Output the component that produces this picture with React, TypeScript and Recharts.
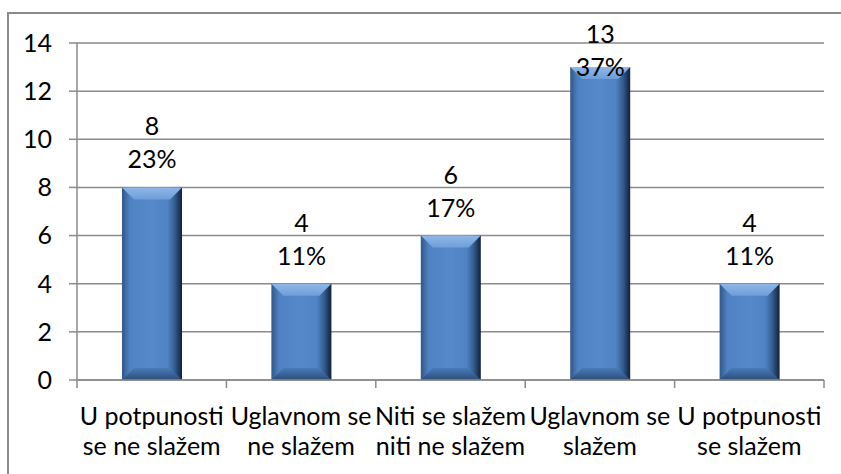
import React from 'react';
import { BarChart, Bar, XAxis, YAxis, CartesianGrid, LabelList } from 'recharts';

const categories = [
  'U potpunosti\nse ne slažem',
  'Uglavnom se\nne slažem',
  'Niti se slažem\nniti ne slažem',
  'Uglavnom se\nslažem',
  'U potpunosti\nse slažem',
];
const counts = [8, 4, 6, 13, 4];
const percents = ['23%', '11%', '17%', '37%', '11%'];
const yTicks = [0, 2, 4, 6, 8, 10, 12, 14];

const data = categories.map((c, i) => ({ name: c, value: counts[i], pct: percents[i] }));

const W = 841;
const H = 474;
const X_AXIS_H = 30;
const MARGIN = { top: 43, right: 17, bottom: 94 - X_AXIS_H, left: 0 };
const Y_AXIS_W = 77;
const FONT = 'Lato, "Open Sans", sans-serif';
const FS = 25;
const GRID = '#8a8a8a';
const BAND = (W - MARGIN.left - MARGIN.right - Y_AXIS_W) / categories.length;

const BevelBar = (props: any) => {
  const { x, y, width, height, index } = props;
  if (!height || height <= 0) return null;
  const b = Math.min(12, width / 4, height / 2);
  const id = `bb${index}`;
  const top = `${x},${y} ${x + width},${y} ${x + width - b},${y + b} ${x + b},${y + b}`;
  const bottom = `${x},${y + height} ${x + width},${y + height} ${x + width - b},${y + height - b} ${x + b},${y + height - b}`;
  return (
    <g>
      <defs>
        <linearGradient id={`${id}h`} x1="0" y1="0" x2="1" y2="0">
          <stop offset="0" stopColor="#30578a" />
          <stop offset="0.13" stopColor="#4f82c2" />
          <stop offset="0.5" stopColor="#5689c9" />
          <stop offset="0.76" stopColor="#5083c3" />
          <stop offset="0.88" stopColor="#335c90" />
          <stop offset="1" stopColor="#122036" />
        </linearGradient>
        <linearGradient id={`${id}t`} x1="0" y1="0" x2="0" y2="1">
          <stop offset="0" stopColor="#8fb7e9" />
          <stop offset="1" stopColor="#6d9ed9" />
        </linearGradient>
        <linearGradient id={`${id}b`} x1="0" y1="0" x2="0" y2="1">
          <stop offset="0" stopColor="#4a7bb8" />
          <stop offset="1" stopColor="#2b4d7a" />
        </linearGradient>
      </defs>
      <rect x={x} y={y} width={width} height={height} fill={`url(#${id}h)`} />
      <polygon points={top} fill={`url(#${id}t)`} />
      <polygon points={bottom} fill={`url(#${id}b)`} />
    </g>
  );
};

const firstLineY = (y: number) => Math.max(y - 52, MARGIN.top);

const CountLabel = (props: any) => {
  const { x, y, width, value } = props;
  return (
    <text x={x + width / 2} y={firstLineY(y)} textAnchor="middle" fontFamily={FONT} fontSize={FS} fill="#000">
      {value}
    </text>
  );
};

const PctLabel = (props: any) => {
  const { x, y, width, value } = props;
  return (
    <text x={x + width / 2} y={firstLineY(y) + 33} textAnchor="middle" fontFamily={FONT} fontSize={FS} fill="#000">
      {value}
    </text>
  );
};

const CatTick = (props: any) => {
  const { x, y, payload, index } = props;
  const lines = String(payload.value).split('\n');
  const isLast = index === categories.length - 1;
  return (
    <g>
      <line x1={x - BAND / 2} y1={y} x2={x - BAND / 2} y2={y + 8} stroke={GRID} strokeWidth={1.5} />
      {isLast && <line x1={x + BAND / 2} y1={y} x2={x + BAND / 2} y2={y + 8} stroke={GRID} strokeWidth={1.5} />}
      {lines.map((l, i) => (
        <text key={i} x={x} y={y + 45 + i * 30} textAnchor="middle" fontFamily={FONT} fontSize={FS} fill="#000">
          {l}
        </text>
      ))}
    </g>
  );
};

export default function App() {
  return (
    <div style={{ position: 'absolute', left: 0, top: 0, width: W, height: H, overflow: 'hidden', background: '#fff' }}>
      <div
        style={{
          position: 'absolute',
          left: 7,
          top: 12,
          width: 1000,
          height: 1000,
          border: '2px solid #8a8a8a',
          boxSizing: 'border-box',
        }}
      />
      <div style={{ position: 'absolute', left: 0, top: 0 }}>
        <BarChart width={W} height={H} data={data} margin={MARGIN} barSize={60}>
          <CartesianGrid horizontal vertical={false} stroke={GRID} strokeWidth={1.5} />
          <XAxis
            dataKey="name"
            height={X_AXIS_H}
            interval={0}
            tickLine={false}
            tickSize={0}
            tickMargin={0}
            axisLine={{ stroke: GRID, strokeWidth: 1.5 }}
            tick={<CatTick />}
          />
          <YAxis
            width={Y_AXIS_W}
            domain={[0, 14]}
            ticks={yTicks}
            interval={0}
            tickSize={8}
            tickMargin={17}
            tickLine={{ stroke: GRID, strokeWidth: 1.5 }}
            axisLine={{ stroke: GRID, strokeWidth: 1.5 }}
            tick={{ fontFamily: FONT, fontSize: FS, fill: '#000' }}
          />
          <Bar dataKey="value" shape={<BevelBar />} isAnimationActive={false}>
            <LabelList dataKey="value" content={<CountLabel />} />
            <LabelList dataKey="pct" content={<PctLabel />} />
          </Bar>
        </BarChart>
      </div>
    </div>
  );
}
